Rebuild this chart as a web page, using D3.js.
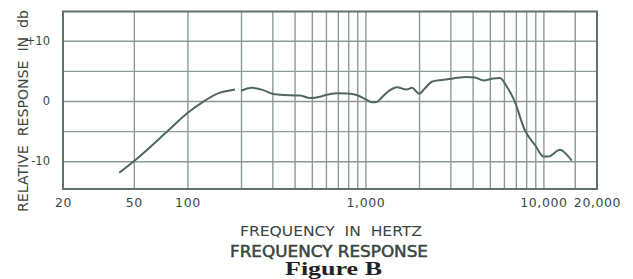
<!DOCTYPE html>
<html>
<head>
<meta charset="utf-8">
<script src="https://cdn.jsdelivr.net/npm/d3@7"></script>
<style>
  body { margin: 0; background: #fff; }
  text { fill: #3a4640; font-family: "DejaVu Sans", sans-serif; }
</style>
</head>
<body>
<div id="viz"></div>
<script>
var width = 633
var height = 279

// data
var freqs = [41.4, 50, 78, 100, 123, 150, 170, 185, 192, 200, 230, 267, 300, 330, 430, 490, 556, 600, 690, 790, 893,
  1000, 1085, 1160, 1235, 1374, 1500, 1706, 1830, 1900, 2000, 2160, 2360, 2690, 3120, 3700, 4130, 4600, 5230, 5700,
  6220, 6840, 7880, 8970, 10000, 10650, 12390, 13520, 14420]
var response = [-11.9, -10, -4.9, -2.0, -0.1, 1.3, 1.7, 1.9, null, 1.7, 2.2, 1.8, 1.2, 1.05, 0.9, 0.5, 0.7, 1.0, 1.27, 1.25, 1.0,
  0.3, -0.2, -0.15, 0.6, 1.8, 2.3, 1.9, 2.2, 1.8, 1.2, 2.1, 3.2, 3.5, 3.75, 4.0, 3.9, 3.4, 3.75, 3.8,
  2.4, 0.2, -4.9, -7.3, -9.2, -9.2, -8.1, -8.9, -9.9]

var gridFreqs = [50, 100, 200, 300, 400, 500, 600, 700, 800, 900, 1000, 2000, 3000, 4000, 5000, 6000, 7000, 8000, 9000, 10000, 15000]
var gridDb = [-10, -5, 0, 5, 10]
var xTicks = [20, 50, 100, 1000, 10000, 20000]
var xTickLabels = ["20", "50", "100", "1,000", "10,000", "20,000"]
var yTicks = [10, 0, -10]
var yTickLabels = ["+10", "0", "-10"]

var svg = d3.select("#viz")
  .append("svg")
  .attr("width", width)
  .attr("height", height)

var x = d3.scaleLog()
  .domain([20, 20000])
  .range([63, 597])

var y = d3.scaleLinear()
  .domain([-14.6, 14.85])
  .range([189, 11.5])

var gridColor = "#8d9a93"

// vertical grid
svg.append("g")
  .attr("transform", "translate(0,189)")
  .call(d3.axisBottom(x).tickValues(gridFreqs).tickSize(-177.5).tickFormat(""))
  .call(g => g.select(".domain").remove())
  .selectAll("line")
    .attr("stroke", gridColor)
    .attr("stroke-width", 1.4)

// horizontal grid
svg.append("g")
  .attr("transform", "translate(63,0)")
  .call(d3.axisLeft(y).tickValues(gridDb).tickSize(-534).tickFormat(""))
  .call(g => g.select(".domain").remove())
  .selectAll("line")
    .attr("stroke", gridColor)
    .attr("stroke-width", 1.4)

// frame
svg.append("rect")
  .attr("x", 63)
  .attr("y", 11.5)
  .attr("width", 534)
  .attr("height", 177.5)
  .attr("fill", "none")
  .attr("stroke", "#5f7268")
  .attr("stroke-width", 2)

// x tick labels
var xAxis = svg.append("g")
  .attr("transform", "translate(0,189)")
  .call(d3.axisBottom(x).tickValues(xTicks).tickSize(0)
    .tickFormat((d, i) => xTickLabels[i]))
xAxis.select(".domain").remove()
xAxis.selectAll("text")
  .attr("y", 17.5)
  .attr("dy", 0)
  .style("font-size", "12.5px")
  .style("letter-spacing", "0.6px")
  .style("fill", "#3a4640")

// y tick labels
var yAxis = svg.append("g")
  .attr("transform", "translate(63,0)")
  .call(d3.axisLeft(y).tickValues(yTicks).tickSize(0).tickPadding(13)
    .tickFormat((d, i) => yTickLabels[i]))
yAxis.select(".domain").remove()
yAxis.selectAll("text")
  .style("font-size", "11.5px")
  .style("fill", "#3a4640")

// response curve
var pts = freqs.map((f, i) => ({ f: f, v: response[i] }))
var line = d3.line()
  .defined(d => d.v != null)
  .x(d => x(d.f))
  .y(d => y(d.v))
  .curve(d3.curveMonotoneX)

svg.append("path")
  .datum(pts)
  .attr("fill", "none")
  .attr("stroke", "#50675c")
  .attr("stroke-width", 2)
  .attr("d", line)

// titles
svg.append("text")
  .attr("transform", "translate(28,111) rotate(-90)")
  .attr("text-anchor", "middle")
  .attr("textLength", 202)
  .attr("lengthAdjust", "spacingAndGlyphs")
  .style("white-space", "pre")
  .style("font-size", "14px")
  .text("RELATIVE  RESPONSE  IN  db")

svg.append("text")
  .attr("x", 331)
  .attr("y", 235.5)
  .attr("text-anchor", "middle")
  .attr("textLength", 182)
  .attr("lengthAdjust", "spacingAndGlyphs")
  .style("white-space", "pre")
  .style("font-size", "13.5px")
  .text("FREQUENCY  IN  HERTZ")

svg.append("text")
  .attr("x", 329)
  .attr("y", 257)
  .attr("text-anchor", "middle")
  .attr("textLength", 198)
  .attr("lengthAdjust", "spacingAndGlyphs")
  .style("font-size", "15px")
  .style("stroke", "#3a4640")
  .style("stroke-width", 0.5)
  .text("FREQUENCY RESPONSE")

svg.append("text")
  .attr("x", 333.5)
  .attr("y", 274.5)
  .attr("text-anchor", "middle")
  .attr("textLength", 97)
  .attr("lengthAdjust", "spacingAndGlyphs")
  .style("font-family", "'Liberation Serif', serif")
  .style("font-size", "19px")
  .style("font-weight", "bold")
  .style("fill", "#222")
  .text("Figure B")
</script>
</body>
</html>
